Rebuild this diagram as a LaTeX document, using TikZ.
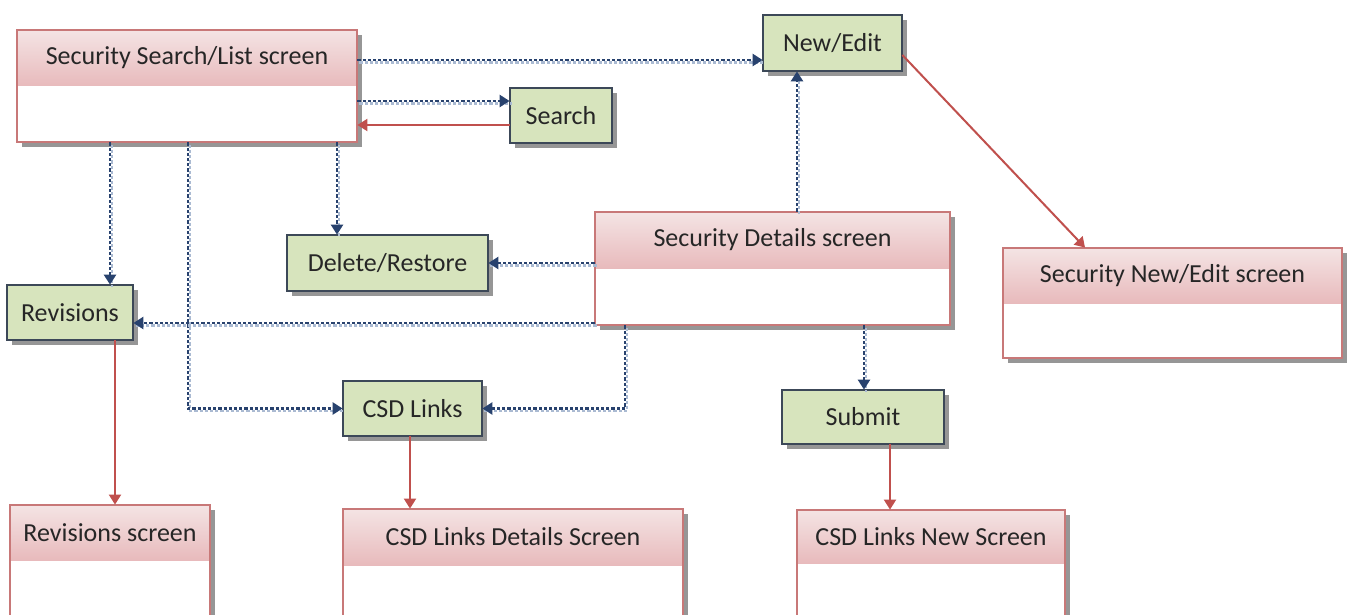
\documentclass[tikz,border=0pt]{standalone}
\usepackage{fontspec}
\setmainfont{Carlito}
\usetikzlibrary{arrows.meta,fit,calc}
\definecolor{dblue}{RGB}{40,66,110}
\definecolor{lblue}{RGB}{170,186,210}
\definecolor{dred}{RGB}{192,80,77}
\definecolor{pinktop}{RGB}{244,228,228}
\definecolor{pinkbot}{RGB}{232,186,188}
\definecolor{pinkedge}{RGB}{200,120,120}
\definecolor{gfill}{RGB}{215,228,189}
\definecolor{gedge}{RGB}{60,72,88}
\definecolor{shad}{RGB}{150,150,150}
\tikzset{
  dl/.style={draw=dblue, line width=1.3pt, dash pattern=on 1.6pt off 1pt,
    -{Triangle[width=6pt,length=5pt]},
    preaction={draw=lblue, line width=1.2pt, dash pattern=on 1.6pt off 1pt, -, transform canvas={xshift=1pt,yshift=-1.2pt}}},
  rl/.style={draw=dred, line width=1pt, -{Triangle[width=6pt,length=5pt]}},
  txt/.style={font=\fontsize{13}{15}\selectfont, inner sep=0, text=black!85},
}
\newcommand\scrbox[7]{%
  \fill[shad] (#2+5,#3+5) rectangle (#4+5,#5+5);
  \fill[white] (#2,#3) rectangle (#4,#5);
  \shade[top color=pinktop, bottom color=pinkbot] (#2,#3) rectangle (#4,#6);
  \node[inner sep=0, fit={(#2,#3)(#4,#5)}] (#1) {};
  \draw[pinkedge, line width=0.6pt] (#2,#3) rectangle (#4,#5);
  \node[txt] at ({(#2+#4)/2},{(#3+#6)/2}) {#7};
}
\newcommand\actbox[6]{%
  \fill[shad] (#2+5,#3+5) rectangle (#4+5,#5+5);
  \node[inner sep=0, fit={(#2,#3)(#4,#5)}] (#1) {};
  \draw[gedge, fill=gfill, line width=0.8pt] (#2,#3) rectangle (#4,#5);
  \node[txt] at ({(#2+#4)/2},{(#3+#5)/2}) {#6};
}
\begin{document}
\begin{tikzpicture}[x=0.5pt,y=-0.5pt]
\useasboundingbox (0,0) rectangle (1350,615);
\clip (0,0) rectangle (1350,615);
\fill[white] (0,0) rectangle (1350,615);
\scrbox{ssl}{17}{30}{357}{142}{86}{Security Search/List screen}
\actbox{newedit}{763}{15}{902}{71}{New/Edit}
\actbox{search}{510}{88}{612}{143}{Search}
\actbox{del}{287}{235}{488}{291}{Delete/Restore}
\scrbox{secdet}{595}{212}{950}{325}{268}{Security Details screen}
\scrbox{secne}{1003}{248}{1342}{358}{303}{Security New/Edit screen}
\actbox{rev}{7}{285}{133}{340}{Revisions}
\actbox{csd}{343}{381}{482}{436}{CSD Links}
\actbox{submit}{782}{390}{944}{444}{Submit}
\scrbox{revscr}{10}{505}{210}{660}{560}{Revisions screen}
\scrbox{csddet}{343}{509}{683}{660}{565}{CSD Links Details Screen}
\scrbox{csdnew}{797}{510}{1065}{660}{563}{CSD Links New Screen}
% connectors
\draw[dl] (ssl.east |- 0,60) -- (newedit.west |- 0,60);
\draw[dl] (ssl.east |- 0,101) -- (search.west |- 0,101);
\draw[rl] (search.west |- 0,125) -- (ssl.east |- 0,125);
\draw[dl] (ssl.south -| 110,0) -- (rev.north -| 110,0);
\draw[dl] (ssl.south -| 188,0) |- (csd.west);
\draw[dl] (ssl.south -| 337,0) -- (del.north -| 337,0);
\draw[dl] (secdet.north -| 797,0) -- (newedit.south -| 797,0);
\draw[dl] (secdet.west |- del.east) -- (del.east);
\draw[dl] (secdet.west |- 0,323) -- (rev.east |- 0,323);
\draw[dl] (secdet.south -| 625,0) |- (csd.east);
\draw[dl] (secdet.south -| 864,0) -- (submit.north -| 864,0);
\draw[rl] (newedit.east |- 0,55) -- (secne.north -| 1085,0);
\draw[rl] (rev.south -| 115,0) -- (revscr.north -| 115,0);
\draw[rl] (csd.south -| 410,0) -- (csddet.north -| 410,0);
\draw[rl] (submit.south -| 890,0) -- (csdnew.north -| 890,0);
\end{tikzpicture}
\end{document}
